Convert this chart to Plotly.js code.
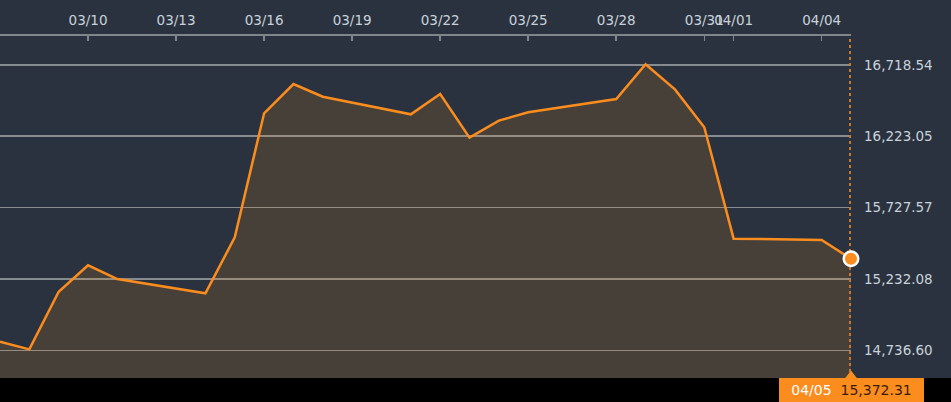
<!DOCTYPE html>
<html>
<head>
<meta charset="utf-8">
<script src="https://cdn.plot.ly/plotly-3.0.1.min.js"></script>
<style>html,body{margin:0;padding:0;background:#29323e;}#chart{width:951px;height:402px;}</style>
</head>
<body>
<div id="chart"></div>
<script>
// Data
const dates = ['2022-03-07','2022-03-08','2022-03-09','2022-03-10','2022-03-11','2022-03-14','2022-03-15',
  '2022-03-16','2022-03-17','2022-03-18','2022-03-21','2022-03-22','2022-03-23','2022-03-24','2022-03-25',
  '2022-03-28','2022-03-29','2022-03-30','2022-03-31','2022-04-01','2022-04-04','2022-04-05'];
const values = [14797, 14744, 15144, 15327, 15232, 15133, 15521,
  16382, 16585, 16497, 16375, 16516, 16213, 16331, 16389,
  16481, 16722, 16548, 16285, 15512, 15503, 15372.31];
const xTickVals = ['2022-03-10','2022-03-13','2022-03-16','2022-03-19','2022-03-22','2022-03-25','2022-03-28','2022-03-31','2022-04-01','2022-04-04'];
const yTickVals = [14736.60, 15232.08, 15727.57, 16223.05, 16718.54];
const yTickText = ['14,736.60','15,232.08','15,727.57','16,223.05','16,718.54'];
const yRange = [14545.1, 16918.4];
const lastDate = dates[dates.length-1];
const lastValue = values[values.length-1];
const lastLabelDate = '04/05';
const lastLabelValue = '15,372.31';

const orange = '#fb8c1e';
const bg = '#29323e';
const font = {family: 'DejaVu Sans, Verdana, sans-serif', size: 13.5, color: '#c9d2db'};

const traces = [
  {
    x: dates, y: values, type: 'scatter', mode: 'lines',
    line: {color: orange, width: 2.5},
    fill: 'tozeroy', fillcolor: 'rgba(247,147,30,0.15)',
    hoverinfo: 'skip'
  },
  {
    x: [lastDate, lastDate], y: yRange, type: 'scatter', mode: 'lines',
    line: {color: '#c8792c', width: 4, dash: '3px,3px'},
    hoverinfo: 'skip'
  },
  {
    x: [lastDate], y: [yRange[0]], type: 'scatter', mode: 'markers',
    marker: {symbol: 'triangle-up', size: 15, color: orange},
    cliponaxis: false, hoverinfo: 'skip'
  },
  {
    x: [lastDate], y: [lastValue], type: 'scatter', mode: 'markers',
    marker: {size: 14.5, color: orange, line: {color: '#ffffff', width: 2.5}},
    cliponaxis: false, hoverinfo: 'skip'
  }
];

const layout = {
  width: 951, height: 402,
  margin: {l: 0, r: 100, t: 36, b: 24, pad: 0},
  paper_bgcolor: bg, plot_bgcolor: bg,
  showlegend: false,
  font: font,
  xaxis: {
    type: 'date', side: 'top',
    range: ['2022-03-07', '2022-04-05'],
    tickvals: xTickVals, tickformat: '%m/%d', tickangle: 0,
    showgrid: false, zeroline: false,
    showline: true, linecolor: '#80868c', linewidth: 2,
    ticks: 'inside', ticklen: 5, tickcolor: '#80868c', tickwidth: 1.5,
    ticklabelstandoff: 4,
    tickfont: font, fixedrange: true
  },
  yaxis: {
    side: 'right',
    range: yRange,
    tickvals: yTickVals, ticktext: yTickText,
    showgrid: true, gridcolor: '#868b90', gridwidth: 1.5,
    zeroline: false, showline: false, ticks: '',
    ticklabelstandoff: 12,
    tickfont: font, fixedrange: true
  },
  shapes: [
    {type: 'rect', xref: 'paper', yref: 'paper', x0: 0, x1: 951/851, y0: -24/342, y1: 0,
     fillcolor: '#000000', line: {width: 0}, layer: 'above'}
  ],
  annotations: [
    {xref: 'x', yref: 'paper', x: lastDate, y: -12/342, xanchor: 'center', yanchor: 'middle',
     text: '<span style="color:#ffffff">' + lastLabelDate + '</span>  <span style="color:#3a1c06">' + lastLabelValue + '</span>',
     showarrow: false, bgcolor: orange, width: 139, height: 18, borderpad: 3, borderwidth: 0,
     font: {family: font.family, size: 14}}
  ]
};

Plotly.newPlot('chart', traces, layout, {staticPlot: true, displayModeBar: false});
</script>
</body>
</html>
